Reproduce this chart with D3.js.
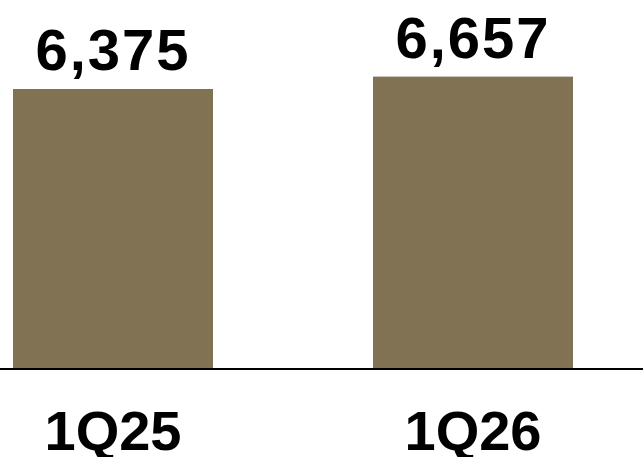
<!DOCTYPE html>
<html>
<head>
<meta charset="utf-8">
<script src="https://cdn.jsdelivr.net/npm/d3@7"></script>
<style>
  html, body { margin: 0; padding: 0; background: #fff; }
  svg { display: block; }
</style>
</head>
<body>
<svg id="chart" width="643" height="457"></svg>
<script>
// Quarterly totals
const categories = ["1Q25", "1Q26"];
const values = [6375, 6657];

const width = 643, height = 457;
const baseY = 369;
const barColor = "#827254";
const fontFamily = "'Liberation Sans', Arial, sans-serif";

const svg = d3.select("#chart");

const x = d3.scaleBand()
  .domain(categories)
  .range([13, 573])
  .paddingInner(160 / 360)
  .paddingOuter(0);

// Zero-based value scale: 0 sits on the baseline
const y = d3.scaleLinear()
  .domain([0, 6375 / 280 * 369])
  .range([baseY, 0]);

const fmt = d3.format(",");

svg.selectAll("rect.bar")
  .data(values)
  .join("rect")
  .attr("class", "bar")
  .attr("x", (d, i) => x(categories[i]))
  .attr("width", x.bandwidth())
  .attr("y", d => y(d))
  .attr("height", d => baseY - y(d))
  .attr("fill", barColor);

// Baseline
svg.append("line")
  .attr("x1", 0).attr("x2", width)
  .attr("y1", baseY).attr("y2", baseY)
  .attr("stroke", "#000")
  .attr("stroke-width", 2);

// Value labels above bars
svg.selectAll("text.value")
  .data(values)
  .join("text")
  .attr("class", "value")
  .attr("x", (d, i) => x(categories[i]) + x.bandwidth() / 2)
  .attr("y", d => y(d) - 19)
  .attr("text-anchor", "middle")
  .attr("font-family", fontFamily)
  .attr("font-weight", "bold")
  .attr("font-size", 58)
  .attr("letter-spacing", 2)
  .attr("fill", "#000")
  .text(d => fmt(d));

// Category labels under the baseline
const xAxis = svg.append("g")
  .attr("transform", `translate(0,${baseY})`)
  .call(d3.axisBottom(x).tickSize(0).tickPadding(0));
xAxis.select(".domain").remove();
xAxis.selectAll("text")
  .attr("y", 81)
  .attr("dy", 0)
  .attr("font-family", fontFamily)
  .attr("font-weight", "bold")
  .attr("font-size", 56)
  .attr("fill", "#000");
</script>
</body>
</html>
